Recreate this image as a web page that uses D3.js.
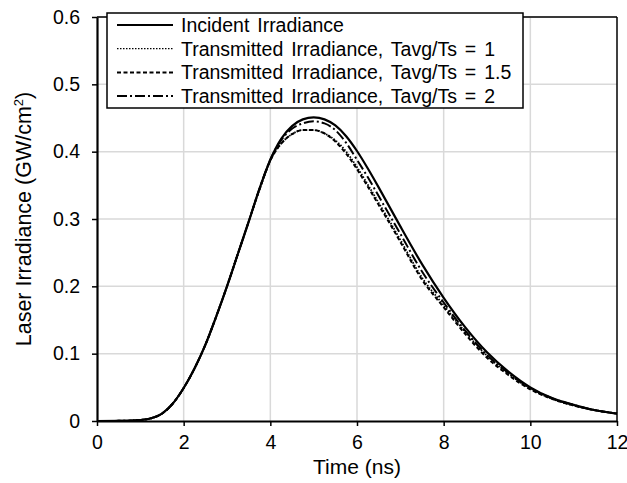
<!DOCTYPE html>
<html>
<head>
<meta charset="utf-8">
<script src="https://cdn.jsdelivr.net/npm/d3@7"></script>
<style>
  body { margin: 0; background: #fff; }
  svg text { font-family: "Liberation Sans", Arial, sans-serif; fill: #000; }
</style>
</head>
<body>
<svg id="chart" width="627" height="483"></svg>
<script>
// time points (ns)
var time = [0, 0.5, 1, 1.25, 1.5, 1.75, 2, 2.25, 2.5, 2.75, 3, 3.25, 3.5, 3.75,
            4, 4.25, 4.5, 4.75, 5, 5.25, 5.5, 5.75, 6, 6.25, 6.5, 6.75, 7,
            7.5, 8, 8.5, 9, 9.5, 10, 10.5, 11, 11.5, 12];

// irradiance (GW/cm2)
var incident = [0, 0.0002, 0.0015, 0.004, 0.011, 0.026, 0.049, 0.078, 0.113, 0.155, 0.200, 0.248, 0.296, 0.345,
                0.388, 0.419, 0.438, 0.448, 0.451, 0.448, 0.439, 0.423, 0.401, 0.375, 0.347, 0.318, 0.289,
                0.233, 0.183, 0.139, 0.102, 0.073, 0.050, 0.034, 0.024, 0.016, 0.011];
var trans1 = [0, 0.0002, 0.0015, 0.004, 0.011, 0.026, 0.049, 0.078, 0.113, 0.155, 0.200, 0.248, 0.296, 0.344,
              0.387, 0.412, 0.426, 0.432, 0.432, 0.427, 0.417, 0.400, 0.377, 0.351, 0.324, 0.297, 0.269,
              0.213, 0.172, 0.132, 0.097, 0.070, 0.048, 0.033, 0.023, 0.016, 0.011];
var trans15 = [0, 0.0002, 0.0015, 0.004, 0.011, 0.026, 0.049, 0.078, 0.113, 0.155, 0.200, 0.248, 0.296, 0.344,
               0.387, 0.412, 0.426, 0.432, 0.432, 0.427, 0.415, 0.397, 0.374, 0.348, 0.321, 0.294, 0.266,
               0.210, 0.169, 0.129, 0.094, 0.068, 0.047, 0.033, 0.023, 0.016, 0.011];
var trans2 = [0, 0.0002, 0.0015, 0.004, 0.011, 0.026, 0.049, 0.078, 0.113, 0.155, 0.200, 0.248, 0.296, 0.345,
              0.388, 0.417, 0.434, 0.442, 0.445, 0.442, 0.432, 0.413, 0.388, 0.362, 0.334, 0.306, 0.278,
              0.222, 0.176, 0.134, 0.098, 0.071, 0.049, 0.034, 0.024, 0.016, 0.011];

var xTicks = [0, 2, 4, 6, 8, 10, 12];
var yTicks = [0, 0.1, 0.2, 0.3, 0.4, 0.5, 0.6];

var legendLabels = ["Incident Irradiance",
                    "Transmitted Irradiance, Tavg/Ts = 1",
                    "Transmitted Irradiance, Tavg/Ts = 1.5",
                    "Transmitted Irradiance, Tavg/Ts = 2"];

var series = [
    {values: incident, dash: null, width: 2.2},
    {values: trans1, dash: "1.5,1.5", width: 1.8},
    {values: trans15, dash: "4,2.5", width: 2},
    {values: trans2, dash: "10,3,2,3", width: 2}
];

var svg = d3.select("#chart");

// scales
var x = d3.scaleLinear().domain([0, 12]).range([97, 617]),
    y = d3.scaleLinear().domain([0, 0.6]).range([421, 17]);

// gridlines
svg.append("g").selectAll("line").data(xTicks.slice(1, -1)).enter().append("line")
    .attr("x1", function(d) { return x(d); }).attr("x2", function(d) { return x(d); })
    .attr("y1", y(0)).attr("y2", y(0.6))
    .attr("stroke", "#d9d9d9").attr("stroke-width", 1.5);
svg.append("g").selectAll("line").data(yTicks.slice(1)).enter().append("line")
    .attr("x1", x(0)).attr("x2", x(12))
    .attr("y1", function(d) { return y(d); }).attr("y2", function(d) { return y(d); })
    .attr("stroke", "#d9d9d9").attr("stroke-width", 1.5);

// curves
var line = d3.line()
    .curve(d3.curveMonotoneX)
    .x(function(d, i) { return x(time[i]); })
    .y(function(d) { return y(d); });

series.forEach(function(s) {
    svg.append("path")
        .datum(s.values)
        .attr("d", line)
        .attr("fill", "none")
        .attr("stroke", "#000")
        .attr("stroke-width", s.width)
        .attr("stroke-dasharray", s.dash);
});

// frame (top/right)
svg.append("line").attr("x1", x(0)).attr("x2", x(12)).attr("y1", y(0.6)).attr("y2", y(0.6))
    .attr("stroke", "#000").attr("stroke-width", 1.5);
svg.append("line").attr("x1", x(12)).attr("x2", x(12)).attr("y1", y(0.6)).attr("y2", y(0))
    .attr("stroke", "#000").attr("stroke-width", 1.5);

// axes
var xAxis = svg.append("g")
    .attr("transform", "translate(0," + y(0) + ")")
    .call(d3.axisBottom(x).tickValues(xTicks).tickFormat(d3.format("d")).tickSizeInner(5).tickSizeOuter(0).tickPadding(9));
var yAxis = svg.append("g")
    .attr("transform", "translate(" + x(0) + ",0)")
    .call(d3.axisLeft(y).tickValues(yTicks).tickFormat(function(d) { return d === 0 ? "0" : d3.format(".1f")(d); })
          .tickSizeInner(5).tickSizeOuter(0).tickPadding(12));

[xAxis, yAxis].forEach(function(a) {
    a.select(".domain").attr("stroke", "#000").attr("stroke-width", 2.2);
    a.selectAll(".tick line").attr("stroke", "#000").attr("stroke-width", 1.5);
    a.selectAll(".tick text").attr("font-size", 19.5).attr("font-family", "Liberation Sans, Arial, sans-serif").attr("fill", "#000");
});

// axis titles
svg.append("text")
    .attr("x", 357).attr("y", 474)
    .attr("text-anchor", "middle")
    .attr("font-size", 21)
    .text("Time (ns)");

var yt = svg.append("text")
    .attr("transform", "translate(31,219) rotate(-90)")
    .attr("text-anchor", "middle")
    .attr("font-size", 21.5);
yt.append("tspan").text("Laser Irradiance (GW/cm");
yt.append("tspan").attr("font-size", 13).attr("dy", -8).text("2");
yt.append("tspan").attr("dy", 8).text(")");

// legend
var legend = svg.append("g");
legend.append("rect")
    .attr("x", 107).attr("y", 13).attr("width", 416).attr("height", 95)
    .attr("fill", "#fff").attr("stroke", "#000").attr("stroke-width", 1.5);

legendLabels.forEach(function(label, i) {
    var ly = 25 + i * 23.7;
    legend.append("line")
        .attr("x1", 117).attr("x2", 173).attr("y1", ly).attr("y2", ly)
        .attr("stroke", "#000")
        .attr("stroke-width", i === 1 ? 1.3 : 2)
        .attr("stroke-dasharray", series[i].dash);
    legend.append("text")
        .attr("x", 181).attr("y", ly + 7)
        .attr("font-size", 19.5)
        .attr("word-spacing", 2.5)
        .text(label);
});
</script>
</body>
</html>
